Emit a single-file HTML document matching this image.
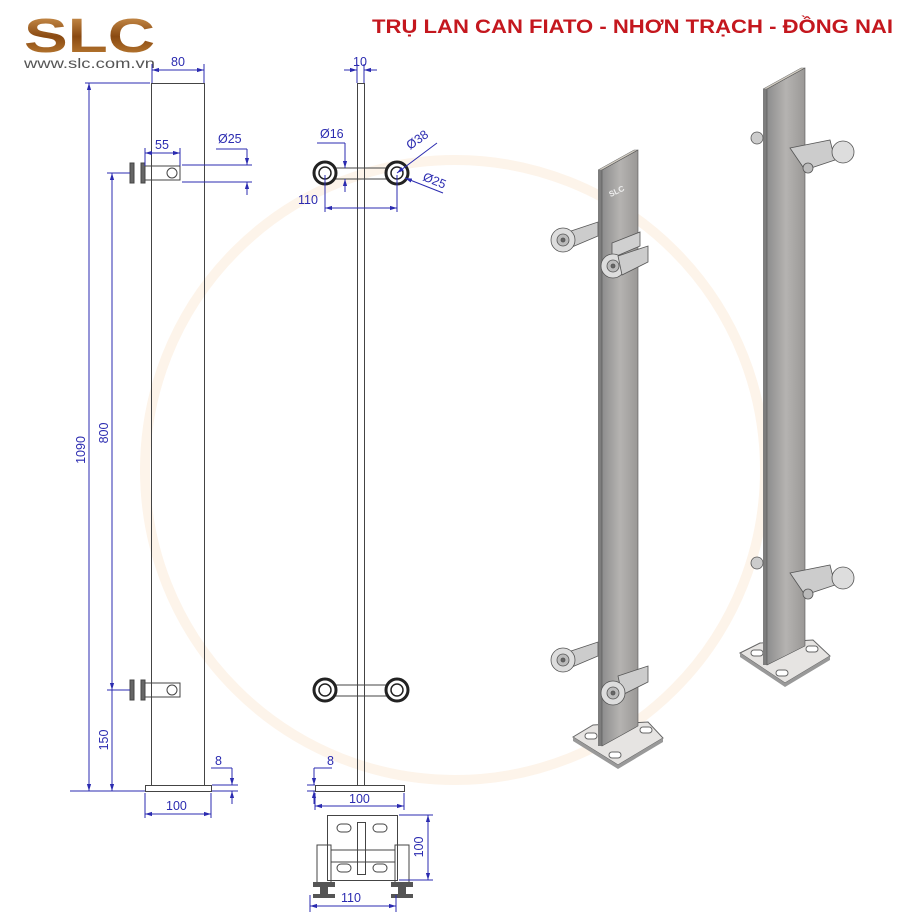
<!DOCTYPE html>
<html><head><meta charset="utf-8"><style>
html,body{margin:0;padding:0;background:#fff;}
svg{display:block;font-family:"Liberation Sans",sans-serif;}
.d{stroke:#2b2bb0;stroke-width:1;fill:none}
.t{fill:#2b2bb0;font-size:12.5px}
.k{stroke:#444;stroke-width:1;fill:none}
</style></head><body>
<svg width="900" height="922" viewBox="0 0 900 922" xmlns="http://www.w3.org/2000/svg">
<defs>
<marker id="a" viewBox="0 0 10 10" refX="10" refY="5" markerWidth="7" markerHeight="7" orient="auto-start-reverse"><path d="M0,2L10,5L0,8z" fill="#2b2bb0"/></marker>
<linearGradient id="g1" x1="0" x2="1"><stop offset="0" stop-color="#8d8d8d"/><stop offset=".5" stop-color="#b5b3b1"/><stop offset="1" stop-color="#9a9896"/></linearGradient>
<linearGradient id="gold" x1="0" y1="0" x2="0" y2="1"><stop offset="0" stop-color="#d9a05a"/><stop offset=".5" stop-color="#8a4a12"/><stop offset="1" stop-color="#c98a3c"/></linearGradient>
</defs>
<!-- watermark -->
<circle cx="455" cy="470" r="310" fill="none" stroke="#fdf4ea" stroke-width="10"/>
<!-- logo -->
<text x="24" y="52" font-size="48" font-weight="bold" fill="url(#gold)" textLength="131" lengthAdjust="spacingAndGlyphs" font-family="Liberation Sans,sans-serif">SLC</text>
<text x="24" y="68" font-size="13.5" fill="#555" textLength="131" lengthAdjust="spacingAndGlyphs">www.slc.com.vn</text>
<text x="372" y="33" font-size="19" font-weight="bold" fill="#c4171e" textLength="521" lengthAdjust="spacingAndGlyphs">TRỤ LAN CAN FIATO - NHƠN TRẠCH - ĐỒNG NAI</text>

<!-- LEFT VIEW -->
<rect x="151.5" y="83.5" width="53" height="702" class="k"/>
<rect x="145.5" y="785.5" width="66" height="6" class="k" fill="#eee"/>
<g class="k"><rect x="130" y="163" width="4" height="20" fill="#666"/><rect x="141" y="163" width="4" height="20" fill="#666"/><rect x="145" y="166" width="35" height="14"/><circle cx="172" cy="173" r="5"/></g>
<g class="k"><rect x="130" y="680" width="4" height="20" fill="#666"/><rect x="141" y="680" width="4" height="20" fill="#666"/><rect x="145" y="683" width="35" height="14"/><circle cx="172" cy="690" r="5"/></g>
<!-- dims left -->
<line x1="152" y1="64" x2="152" y2="83" class="d"/><line x1="204" y1="64" x2="204" y2="83" class="d"/>
<line x1="152" y1="70" x2="204" y2="70" class="d" marker-start="url(#a)" marker-end="url(#a)"/><text x="171" y="66" class="t">80</text>
<line x1="145" y1="148" x2="145" y2="166" class="d"/><line x1="180" y1="148" x2="180" y2="166" class="d"/>
<line x1="145" y1="153" x2="180" y2="153" class="d" marker-start="url(#a)" marker-end="url(#a)"/><text x="155" y="149" class="t">55</text>
<line x1="182" y1="165" x2="252" y2="165" class="d"/><line x1="182" y1="182" x2="252" y2="182" class="d"/>
<line x1="216" y1="149" x2="247" y2="149" class="d"/><line x1="247" y1="149" x2="247" y2="165" class="d" marker-end="url(#a)"/><line x1="247" y1="195" x2="247" y2="182" class="d" marker-end="url(#a)"/>
<text x="218" y="143" class="t">Ø25</text>
<line x1="85" y1="83" x2="150" y2="83" class="d"/><line x1="70" y1="791" x2="145" y2="791" class="d"/>
<line x1="89" y1="83" x2="89" y2="791" class="d" marker-start="url(#a)" marker-end="url(#a)"/>
<text transform="translate(85,450) rotate(-90)" class="t" text-anchor="middle">1090</text>
<line x1="107" y1="173" x2="130" y2="173" class="d"/><line x1="107" y1="690" x2="130" y2="690" class="d"/>
<line x1="112" y1="173" x2="112" y2="690" class="d" marker-start="url(#a)" marker-end="url(#a)"/>
<line x1="112" y1="690" x2="112" y2="791" class="d" marker-end="url(#a)"/>
<text transform="translate(108,433) rotate(-90)" class="t" text-anchor="middle">800</text>
<text transform="translate(108,740) rotate(-90)" class="t" text-anchor="middle">150</text>
<line x1="211" y1="768" x2="232" y2="768" class="d"/><line x1="232" y1="768" x2="232" y2="785" class="d" marker-end="url(#a)"/><line x1="232" y1="804" x2="232" y2="791" class="d" marker-end="url(#a)"/>
<line x1="212" y1="785" x2="238" y2="785" class="d"/><line x1="212" y1="791" x2="238" y2="791" class="d"/>
<text x="215" y="765" class="t">8</text>
<line x1="145" y1="793" x2="145" y2="818" class="d"/><line x1="211" y1="793" x2="211" y2="818" class="d"/>
<line x1="145" y1="814" x2="211" y2="814" class="d" marker-start="url(#a)" marker-end="url(#a)"/><text x="166" y="810" class="t">100</text>

<!-- MIDDLE VIEW -->
<rect x="357.5" y="83.5" width="7" height="702" class="k"/>
<rect x="315.5" y="785.5" width="89" height="6" class="k" fill="#eee"/>
<g class="k">
<line x1="325" y1="168" x2="397" y2="168"/><line x1="325" y1="179" x2="397" y2="179"/>
<line x1="325" y1="685" x2="397" y2="685"/><line x1="325" y1="696" x2="397" y2="696"/>
</g>
<g stroke="#222" fill="#fff">
<circle cx="325" cy="173" r="11" stroke-width="3"/><circle cx="325" cy="173" r="6" stroke-width="1.5"/>
<circle cx="397" cy="173" r="11" stroke-width="3"/><circle cx="397" cy="173" r="6" stroke-width="1.5"/>
<circle cx="325" cy="690" r="11" stroke-width="3"/><circle cx="325" cy="690" r="6" stroke-width="1.5"/>
<circle cx="397" cy="690" r="11" stroke-width="3"/><circle cx="397" cy="690" r="6" stroke-width="1.5"/>
</g>
<line x1="357" y1="64" x2="357" y2="83" class="d"/><line x1="364" y1="64" x2="364" y2="83" class="d"/>
<line x1="344" y1="70" x2="357" y2="70" class="d" marker-end="url(#a)"/><line x1="377" y1="70" x2="364" y2="70" class="d" marker-end="url(#a)"/>
<text x="353" y="66" class="t">10</text>
<text x="320" y="138" class="t">Ø16</text>
<line x1="317" y1="143" x2="345" y2="143" class="d"/><line x1="345" y1="143" x2="345" y2="168" class="d" marker-end="url(#a)"/><line x1="345" y1="192" x2="345" y2="179" class="d" marker-end="url(#a)"/>
<line x1="437" y1="143" x2="397" y2="173" class="d" marker-end="url(#a)"/>
<text transform="translate(410,150) rotate(-35)" class="t">Ø38</text>
<line x1="443" y1="193" x2="405" y2="178" class="d" marker-end="url(#a)"/>
<text transform="translate(422,180) rotate(22)" class="t">Ø25</text>
<line x1="325" y1="175" x2="325" y2="212" class="d"/><line x1="397" y1="175" x2="397" y2="212" class="d"/>
<line x1="325" y1="208" x2="397" y2="208" class="d" marker-start="url(#a)" marker-end="url(#a)"/>
<text x="298" y="204" class="t">110</text>
<line x1="314" y1="768" x2="332" y2="768" class="d"/><line x1="314" y1="768" x2="314" y2="785" class="d" marker-end="url(#a)"/><line x1="314" y1="804" x2="314" y2="791" class="d" marker-end="url(#a)"/>
<line x1="307" y1="785" x2="315" y2="785" class="d"/><line x1="307" y1="791" x2="315" y2="791" class="d"/>
<text x="327" y="765" class="t">8</text>
<line x1="315" y1="793" x2="315" y2="810" class="d"/><line x1="404" y1="793" x2="404" y2="810" class="d"/>
<line x1="315" y1="806" x2="404" y2="806" class="d" marker-start="url(#a)" marker-end="url(#a)"/><text x="349" y="803" class="t">100</text>
<!-- bottom view -->
<g class="k">
<rect x="327.5" y="815.5" width="70" height="65"/>
<rect x="357.5" y="822.5" width="8" height="52"/>
<rect x="337" y="824" width="14" height="8" rx="4"/><rect x="373" y="824" width="14" height="8" rx="4"/>
<rect x="337" y="864" width="14" height="8" rx="4"/><rect x="373" y="864" width="14" height="8" rx="4"/>
<rect x="317" y="845" width="14" height="38"/><rect x="395" y="845" width="14" height="38"/>
<line x1="331" y1="850" x2="395" y2="850"/><line x1="331" y1="862" x2="395" y2="862"/>
</g>
<g fill="#555"><rect x="313" y="882" width="22" height="5"/><rect x="391" y="882" width="22" height="5"/><rect x="313" y="894" width="22" height="4"/><rect x="391" y="894" width="22" height="4"/><rect x="320" y="887" width="8" height="8"/><rect x="398" y="887" width="8" height="8"/></g>
<line x1="399" y1="815" x2="433" y2="815" class="d"/><line x1="399" y1="880" x2="433" y2="880" class="d"/>
<line x1="428" y1="815" x2="428" y2="880" class="d" marker-start="url(#a)" marker-end="url(#a)"/>
<text transform="translate(423,847) rotate(-90)" class="t" text-anchor="middle">100</text>
<line x1="310" y1="895" x2="310" y2="912" class="d"/><line x1="396" y1="895" x2="396" y2="912" class="d"/>
<line x1="310" y1="906" x2="396" y2="906" class="d" marker-start="url(#a)" marker-end="url(#a)"/><text x="341" y="902" class="t">110</text>

<!-- 3D POST 1 -->
<polygon points="573,737 593,725 648,722 663,738 618,765" fill="#e6e4e2" stroke="#666"/>
<polygon points="573,737 618,765 663,738 663,742 618,769 573,741" fill="#999"/>
<g fill="#fff" stroke="#666"><rect x="585" y="733" width="12" height="6" rx="3"/><rect x="640" y="727" width="12" height="6" rx="3"/><rect x="609" y="752" width="12" height="6" rx="3"/></g>
<polygon points="598,170 634,150 638,150 602,170" fill="#cfcac0" stroke="#666" stroke-width=".5"/>
<polygon points="598,170 602,170 602,746 598,746" fill="#7d7d7d"/>
<polygon points="602,170 638,150 638,726 602,746" fill="url(#g1)" stroke="#555" stroke-width=".6"/>
<text x="610" y="195" font-size="8" fill="#eee" font-weight="bold" transform="rotate(-25 615 195)">SLC</text>
<g stroke="#555" stroke-width=".8">
<path d="M565,233 L598,222 L598,236 L572,247z" fill="#ccc"/>
<circle cx="563" cy="240" r="12" fill="#ddd"/><circle cx="563" cy="240" r="6" fill="#bbb"/><circle cx="563" cy="240" r="2" fill="#666"/>
<path d="M612,243 L640,232 L640,246 L612,258 z" fill="#d0d0d0"/>
<circle cx="613" cy="266" r="12" fill="#ddd"/><circle cx="613" cy="266" r="6" fill="#bbb"/><circle cx="613" cy="266" r="2" fill="#666"/>
<path d="M618,256 L648,246 L648,262 L622,275z" fill="#ccc"/>
<path d="M565,653 L598,642 L598,656 L572,667z" fill="#ccc"/>
<circle cx="563" cy="660" r="12" fill="#ddd"/><circle cx="563" cy="660" r="6" fill="#bbb"/><circle cx="563" cy="660" r="2" fill="#666"/>
<path d="M618,676 L648,666 L648,682 L622,695z" fill="#ccc"/>
<circle cx="613" cy="693" r="12" fill="#ddd"/><circle cx="613" cy="693" r="6" fill="#bbb"/><circle cx="613" cy="693" r="2" fill="#666"/>
</g>

<!-- 3D POST 2 -->
<polygon points="740,653 760,643 813,640 830,656 785,683" fill="#e6e4e2" stroke="#666"/>
<polygon points="740,653 785,683 830,656 830,660 785,687 740,657" fill="#999"/>
<g fill="#fff" stroke="#666"><rect x="751" y="650" width="12" height="6" rx="3"/><rect x="806" y="646" width="12" height="6" rx="3"/><rect x="776" y="670" width="12" height="6" rx="3"/></g>
<polygon points="763,89 801,68 805,68 767,89" fill="#cfcac0" stroke="#666" stroke-width=".5"/>
<polygon points="763,89 767,89 767,665 763,665" fill="#7d7d7d"/>
<polygon points="767,89 805,68 805,646 767,665" fill="url(#g1)" stroke="#555" stroke-width=".6"/>
<g stroke="#555" stroke-width=".8">
<circle cx="757" cy="138" r="6" fill="#ccc"/>
<path d="M790,148 L830,140 L835,160 L805,170z" fill="#ccc"/>
<circle cx="843" cy="152" r="11" fill="#ddd"/>
<circle cx="808" cy="168" r="5" fill="#bbb"/>
<circle cx="757" cy="563" r="6" fill="#ccc"/>
<path d="M790,573 L830,565 L835,585 L805,595z" fill="#ccc"/>
<circle cx="843" cy="578" r="11" fill="#ddd"/>
<circle cx="808" cy="594" r="5" fill="#bbb"/>
</g>
</svg>
</body></html>
